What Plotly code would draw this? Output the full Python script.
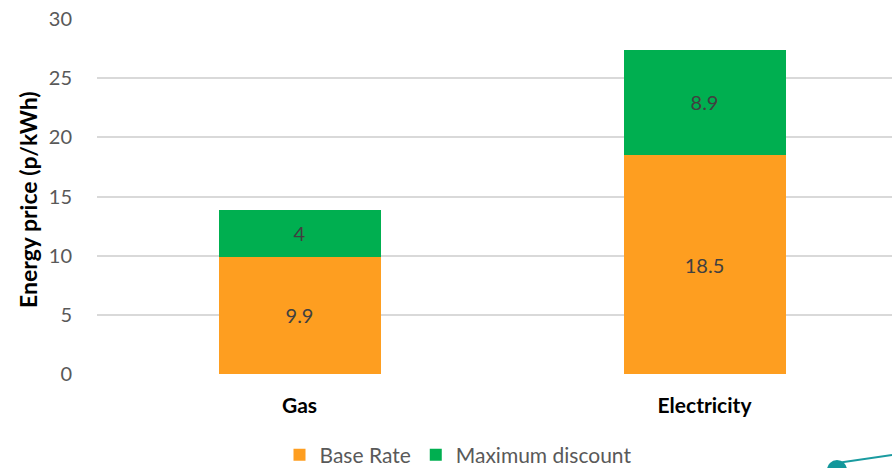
import plotly.graph_objects as go

# Energy prices by fuel, in p/kWh
categories = ["Gas", "Electricity"]
base_rate = [9.9, 18.5]
max_discount = [4, 8.9]
y_ticks = [0, 5, 10, 15, 20, 25, 30]

FONT = "Lato, Carlito, 'Liberation Sans', sans-serif"
W, H = 892, 468
L, R, T, B = 97, 0, 19, 94
plot_w = W - L - R
plot_h = H - T - B

fig = go.Figure()
fig.add_trace(go.Bar(
    name="Base Rate", x=categories, y=base_rate,
    marker=dict(color="#FE9E20", line=dict(width=0)),
    text=[f"{v:g}" for v in base_rate], textposition="inside",
    insidetextanchor="middle",
    textfont=dict(family=FONT, size=20, color="#404040"),
    width=0.4,
))
fig.add_trace(go.Bar(
    name="Maximum discount", x=categories, y=max_discount,
    marker=dict(color="#00AF50", line=dict(width=0)),
    text=[f"{v:g}" for v in max_discount], textposition="inside",
    insidetextanchor="middle",
    textfont=dict(family=FONT, size=20, color="#404040"),
    width=0.4,
))


def px_x(px):
    return (px - L) / plot_w


def px_y(py):
    return (H - B - py) / plot_h


fig.update_layout(
    width=W, height=H, barmode="stack",
    margin=dict(l=L, r=R, t=T, b=B, pad=0, autoexpand=False),
    paper_bgcolor="white", plot_bgcolor="white",
    font=dict(family=FONT, color="#595959"),
    xaxis=dict(
        range=[-0.5, -0.5 + plot_w / 405], showgrid=False, zeroline=False,
        showline=False, ticks="", ticklabelstandoff=17,
        tickfont=dict(family=FONT, size=21, color="#000000", weight="bold"),
    ),
    yaxis=dict(
        range=[0, 30], tickvals=y_ticks, showgrid=True, gridcolor="#D9D9D9",
        gridwidth=1.5, zeroline=False, showline=False, ticks="",
        ticklabelstandoff=24,
        tickfont=dict(family=FONT, size=20, color="#595959"),
    ),
    legend=dict(
        orientation="h", x=px_x(458), xanchor="center", y=px_y(455),
        yanchor="middle", font=dict(family=FONT, size=21, color="#595959"),
        traceorder="normal", itemsizing="constant", itemwidth=30,
        tracegroupgap=0,
    ),
    annotations=[dict(
        text="<b>Energy price (p/kWh)</b>", textangle=-90,
        xref="paper", yref="paper", x=px_x(28), y=px_y(200),
        xanchor="center", yanchor="middle", showarrow=False,
        font=dict(family=FONT, size=23, color="#000000"),
    )],
    shapes=[
        dict(type="line", xref="paper", yref="paper",
             x0=px_x(837), y0=px_y(463), x1=px_x(892), y1=px_y(455),
             line=dict(color="#1A9BA0", width=2)),
        dict(type="circle", xref="paper", yref="paper",
             x0=px_x(827), x1=px_x(847), y0=px_y(460), y1=px_y(480),
             fillcolor="#13979B", line=dict(width=0)),
    ],
)

fig.write_html("out.html")
